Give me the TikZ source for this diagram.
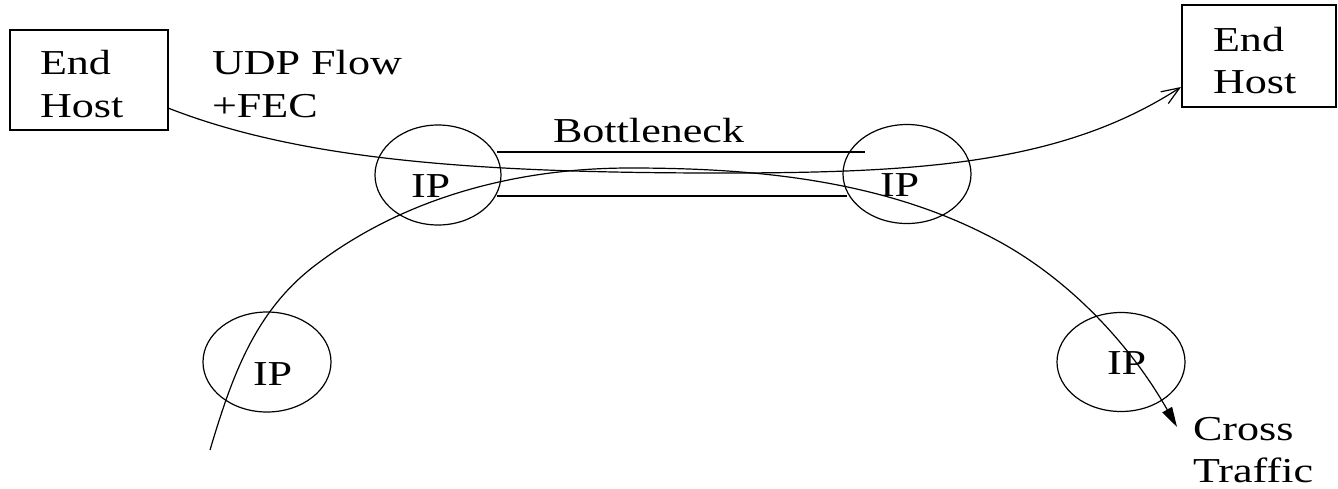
\documentclass[tikz,border=0pt]{standalone}
\usepackage{fontspec}
\setmainfont[FakeStretch=1.26]{Liberation Serif}
\usetikzlibrary{shapes.geometric,arrows.meta}
\begin{document}
\begin{tikzpicture}[x=0.5pt,y=-0.5pt,
  line width=0.6pt,
  every node/.style={inner sep=0pt,outer sep=0pt},
  txt/.style={anchor=base west,font=\fontsize{17.5}{21.5}\selectfont},
  hostbox/.style={draw,rectangle},
  router/.style={draw,ellipse},
  link/.style={draw,line width=0.6pt},
  flow/.style={draw,-{Straight Barb[length=9pt,width=7pt]}},
  cross/.style={draw,-{Triangle[length=10pt,width=5.5pt]}}]
\useasboundingbox (0,0) rectangle (1338,488);
% hosts
\node[hostbox,minimum width=79pt,minimum height=50pt] (lh) at (89,80) {};
\node[hostbox,minimum width=77pt,minimum height=51pt] (rh) at (1259,56) {};
\node[txt] (lhe) at (40,74) {End};
\node[txt] (lhh) at (40,117) {Host};
\node[txt] (rhe) at (1213,51) {End};
\node[txt] (rhh) at (1213,93) {Host};
% routers
\node[router,minimum width=63pt,minimum height=50pt] (tl) at (438,175) {};
\node[router,minimum width=64pt,minimum height=49.5pt] (tr) at (907,174) {};
\node[router,minimum width=64pt,minimum height=50pt] (bl) at (267,362) {};
\node[router,minimum width=64pt,minimum height=49.5pt] (br) at (1121,362) {};
\node[txt] (tlt) at (411,197) {IP};
\node[txt] (trt) at (880,196) {IP};
\node[txt] (blt) at (253,385) {IP};
\node[txt] (brt) at (1107,374) {IP};
% labels
\node[txt] (udp1) at (212,74) {UDP Flow};
\node[txt] (udp2) at (212,117) {+FEC};
\node[txt] (bn) at (553,142) {Bottleneck};
\node[txt] (ct1) at (1193,440) {Cross};
\node[txt] (ct2) at (1193,482) {Traffic};
% bottleneck link
\coordinate (b1a) at (497,152);
\coordinate (b1b) at (865,152);
\coordinate (b2a) at (497,196);
\coordinate (b2b) at (847,196);
\path[link] (b1a) -- (b1b);
\path[link] (b2a) -- (b2b);
% UDP flow
\coordinate (u0) at (168,108);
\coordinate (um) at (720,173);
\coordinate (u1) at (1181,87);
\path[flow] (u0) .. controls (298,159) and (470,173) .. (um)
  .. controls (920,173) and (1062,164) .. (u1);
% cross traffic
\coordinate (c0) at (210,450);
\coordinate (ca) at (313,267);
\coordinate (cm) at (630,168);
\coordinate (cb) at (1000,242);
\coordinate (c1) at (1177,427);
\path[cross] (c0) .. controls (231.5,378) and (254,313) .. (ca)
  .. controls (402.7,197.7) and (516,168) .. (cm)
  .. controls (758,168) and (888,180.4) .. (cb)
  .. controls (1076,284) and (1134,351) .. (c1);
\end{tikzpicture}
\end{document}
